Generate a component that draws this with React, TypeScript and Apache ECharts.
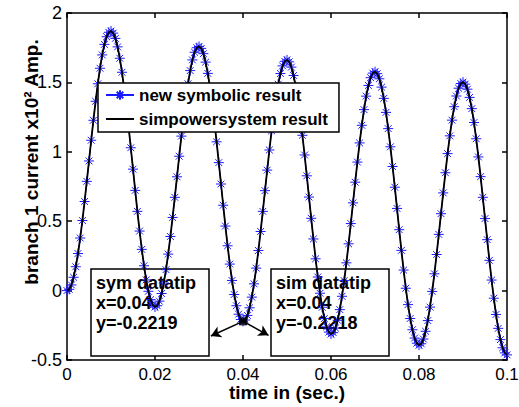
import React, { useEffect, useRef } from 'react';
import * as echarts from 'echarts';

// sample times (s)
const timeSec = [
  0, 0.0005, 0.001, 0.0015, 0.002, 0.0025, 0.003, 0.0035, 0.004, 0.0045,
  0.005, 0.0055, 0.006, 0.0065, 0.007, 0.0075, 0.008, 0.0085, 0.009, 0.0095,
  0.01, 0.0105, 0.011, 0.0115, 0.012, 0.0125, 0.013, 0.0135, 0.014, 0.0145,
  0.015, 0.0155, 0.016, 0.0165, 0.017, 0.0175, 0.018, 0.0185, 0.019, 0.0195,
  0.02, 0.0205, 0.021, 0.0215, 0.022, 0.0225, 0.023, 0.0235, 0.024, 0.0245,
  0.025, 0.0255, 0.026, 0.0265, 0.027, 0.0275, 0.028, 0.0285, 0.029, 0.0295,
  0.03, 0.0305, 0.031, 0.0315, 0.032, 0.0325, 0.033, 0.0335, 0.034, 0.0345,
  0.035, 0.0355, 0.036, 0.0365, 0.037, 0.0375, 0.038, 0.0385, 0.039, 0.0395,
  0.04, 0.0405, 0.041, 0.0415, 0.042, 0.0425, 0.043, 0.0435, 0.044, 0.0445,
  0.045, 0.0455, 0.046, 0.0465, 0.047, 0.0475, 0.048, 0.0485, 0.049, 0.0495,
  0.05, 0.0505, 0.051, 0.0515, 0.052, 0.0525, 0.053, 0.0535, 0.054, 0.0545,
  0.055, 0.0555, 0.056, 0.0565, 0.057, 0.0575, 0.058, 0.0585, 0.059, 0.0595,
  0.06, 0.0605, 0.061, 0.0615, 0.062, 0.0625, 0.063, 0.0635, 0.064, 0.0645,
  0.065, 0.0655, 0.066, 0.0665, 0.067, 0.0675, 0.068, 0.0685, 0.069, 0.0695,
  0.07, 0.0705, 0.071, 0.0715, 0.072, 0.0725, 0.073, 0.0735, 0.074, 0.0745,
  0.075, 0.0755, 0.076, 0.0765, 0.077, 0.0775, 0.078, 0.0785, 0.079, 0.0795,
  0.08, 0.0805, 0.081, 0.0815, 0.082, 0.0825, 0.083, 0.0835, 0.084, 0.0845,
  0.085, 0.0855, 0.086, 0.0865, 0.087, 0.0875, 0.088, 0.0885, 0.089, 0.0895,
  0.09, 0.0905, 0.091, 0.0915, 0.092, 0.0925, 0.093, 0.0935, 0.094, 0.0945,
  0.095, 0.0955, 0.096, 0.0965, 0.097, 0.0975, 0.098, 0.0985, 0.099, 0.0995,
  0.1,
];

// branch 1 current (x10^2 A), new symbolic result
const symbolicCurrent = [
  0, 0.009, 0.041, 0.096, 0.172, 0.267, 0.379, 0.505, 0.642, 0.787,
  0.934, 1.083, 1.227, 1.364, 1.49, 1.602, 1.698, 1.774, 1.829, 1.861,
  1.87, 1.855, 1.817, 1.756, 1.674, 1.573, 1.455, 1.322, 1.18, 1.029,
  0.875, 0.722, 0.571, 0.429, 0.297, 0.179, 0.077, -0.005, -0.065, -0.103,
  -0.118, -0.109, -0.076, -0.021, 0.055, 0.151, 0.263, 0.39, 0.527, 0.672,
  0.82, 0.968, 1.113, 1.251, 1.377, 1.49, 1.585, 1.662, 1.717, 1.75,
  1.759, 1.745, 1.707, 1.646, 1.565, 1.464, 1.346, 1.214, 1.072, 0.922,
  0.768, 0.615, 0.465, 0.323, 0.191, 0.073, -0.028, -0.109, -0.17, -0.208,
  -0.222, -0.212, -0.179, -0.124, -0.047, 0.049, 0.162, 0.289, 0.426, 0.571,
  0.72, 0.868, 1.013, 1.151, 1.278, 1.391, 1.487, 1.564, 1.619, 1.652,
  1.662, 1.648, 1.61, 1.55, 1.469, 1.368, 1.251, 1.119, 0.977, 0.827,
  0.674, 0.521, 0.372, 0.229, 0.098, -0.019, -0.12, -0.201, -0.261, -0.299,
  -0.313, -0.303, -0.27, -0.214, -0.137, -0.041, 0.072, 0.2, 0.337, 0.483,
  0.632, 0.781, 0.926, 1.064, 1.191, 1.304, 1.401, 1.478, 1.534, 1.567,
  1.577, 1.563, 1.526, 1.466, 1.385, 1.284, 1.167, 1.036, 0.894, 0.745,
  0.592, 0.439, 0.29, 0.148, 0.017, -0.101, -0.201, -0.282, -0.342, -0.379,
  -0.393, -0.383, -0.349, -0.293, -0.216, -0.119, -0.006, 0.121, 0.26, 0.405,
  0.554, 0.704, 0.849, 0.987, 1.115, 1.228, 1.325, 1.402, 1.458, 1.492,
  1.502, 1.488, 1.451, 1.392, 1.311, 1.211, 1.094, 0.963, 0.821, 0.672,
  0.519, 0.367, 0.218, 0.076, -0.055, -0.172, -0.272, -0.353, -0.412, -0.449,
  -0.463,
];

// simpowersystem result (coincides with the symbolic one)
const simpowerCurrent = symbolicCurrent.slice();

const seriesNames = ['new symbolic result', 'simpowersystem result'];
const xAxisTitle = 'time in (sec.)';
const yAxisTitle = 'branch 1 current x10² Amp.';

// datatip
const tipX = [0.04];
const tipY = [-0.2219];
const symTipLines = ['sym datatip', 'x=0.04', 'y=-0.2219'];
const simTipLines = ['sim datatip', 'x=0.04', 'y=-0.2218'];
const arrowEnds = [
  [0.0327, -0.327],
  [0.0458, -0.322],
];

const FONT = '"Liberation Sans", Arial, Helvetica, sans-serif';
const BLUE = '#1a1aff';
const ASTERISK = 'path://M5,0L5,10M0,5L10,5M1.6,1.6L8.4,8.4M1.6,8.4L8.4,1.6';
const LINE_ICON = 'path://M0,0L28,0L28,2L0,2Z';

export default function App() {
  const ref = useRef<HTMLDivElement>(null);

  useEffect(() => {
    if (!ref.current) return;
    const chart = echarts.init(ref.current, undefined, { renderer: 'svg' });

    const symData = timeSec.map((t, i) => [t, symbolicCurrent[i]]);
    const simData = timeSec.map((t, i) => [t, simpowerCurrent[i]]);
    const tipData = tipX.map((x, i) => [x, tipY[i]]);

    const axisLine = { show: true, onZero: false, lineStyle: { color: '#000', width: 1.5 } };
    const axisTick = { show: true, inside: true, length: 5, lineStyle: { color: '#000', width: 1.5 } };

    const option: any = {
      animation: false,
      backgroundColor: '#fff',
      grid: { left: 67, right: 12, top: 13, bottom: 47, containLabel: false, outerBoundsMode: 'none' },
      legend: {
        data: [
          { name: seriesNames[0] },
          { name: seriesNames[1], icon: LINE_ICON },
        ],
        orient: 'vertical',
        left: 98,
        top: 83,
        backgroundColor: '#fff',
        borderColor: '#000',
        borderWidth: 1.5,
        borderRadius: 0,
        padding: [2, 11, 3, 7],
        itemGap: 4,
        itemWidth: 28,
        itemHeight: 12,
        selectedMode: false,
        textStyle: { fontFamily: FONT, fontSize: 17, fontWeight: 'bold', color: '#000', lineHeight: 20 },
      },
      xAxis: [
        {
          type: 'value',
          min: 0,
          max: 0.1,
          interval: 0.02,
          position: 'bottom',
          axisLine,
          axisTick,
          splitLine: { show: false },
          axisLabel: { color: '#000', fontFamily: FONT, fontSize: 17, margin: 6 },
          name: xAxisTitle,
          nameLocation: 'middle',
          nameGap: 23,
          nameMoveOverlap: false,
          nameTextStyle: { fontFamily: FONT, fontSize: 19, fontWeight: 'bold', color: '#000' },
        },
        {
          type: 'value',
          min: 0,
          max: 0.1,
          interval: 0.02,
          position: 'top',
          axisLine,
          axisTick,
          splitLine: { show: false },
          axisLabel: { show: false },
        },
      ],
      yAxis: [
        {
          type: 'value',
          min: -0.5,
          max: 2,
          interval: 0.5,
          position: 'left',
          axisLine,
          axisTick,
          splitLine: { show: false },
          axisLabel: { color: '#000', fontFamily: FONT, fontSize: 18, margin: 5 },
        },
        {
          type: 'value',
          min: -0.5,
          max: 2,
          interval: 0.5,
          position: 'right',
          axisLine,
          axisTick,
          splitLine: { show: false },
          axisLabel: { show: false },
        },
      ],
      series: [
        {
          name: seriesNames[0],
          type: 'line',
          data: symData,
          symbol: ASTERISK,
          symbolSize: 10,
          showSymbol: true,
          showAllSymbol: true,
          itemStyle: { color: BLUE, borderColor: BLUE, borderWidth: 1 },
          lineStyle: { color: BLUE, width: 1 },
          z: 2,
        },
        {
          name: seriesNames[1],
          type: 'line',
          data: simData,
          symbol: 'none',
          itemStyle: { color: '#000' },
          lineStyle: { color: '#000', width: 1.8 },
          z: 3,
          markLine: {
            silent: true,
            symbol: ['none', 'arrow'],
            symbolSize: [9, 10],
            label: { show: false },
            lineStyle: { color: '#000', width: 1.5, type: 'solid' },
            data: arrowEnds.map((end) => [
              { coord: [tipX[0], tipY[0]] },
              { coord: end },
            ]),
          },
        },
        {
          name: 'datatip',
          type: 'scatter',
          data: tipData,
          symbol: 'rect',
          symbolSize: 8,
          itemStyle: { color: '#000' },
          z: 4,
        },
      ],
      graphic: [
        {
          type: 'text',
          z: 5,
          x: 31,
          y: 162,
          rotation: Math.PI / 2,
          style: {
            text: yAxisTitle,
            font: `bold 19px ${FONT}`,
            fill: '#000',
            align: 'center',
            verticalAlign: 'middle',
          },
        },
        {
          type: 'rect',
          z: 1,
          shape: { x: 91, y: 269, width: 118, height: 87 },
          style: { fill: '#fff', stroke: '#000', lineWidth: 1.5 },
        },
        {
          type: 'text',
          z: 1,
          x: 96,
          y: 273,
          style: {
            text: symTipLines.join('\n'),
            font: `bold 18px ${FONT}`,
            fill: '#000',
            lineHeight: 20,
            verticalAlign: 'top',
          },
        },
        {
          type: 'rect',
          z: 1,
          shape: { x: 271, y: 269, width: 118, height: 87 },
          style: { fill: '#fff', stroke: '#000', lineWidth: 1.5 },
        },
        {
          type: 'text',
          z: 1,
          x: 276,
          y: 273,
          style: {
            text: simTipLines.join('\n'),
            font: `bold 18px ${FONT}`,
            fill: '#000',
            lineHeight: 20,
            verticalAlign: 'top',
          },
        },
      ],
    };

    chart.setOption(option);
    return () => chart.dispose();
  }, []);

  return (
    <div
      ref={ref}
      style={{ position: 'fixed', left: 0, top: 0, width: 519, height: 407, background: '#fff' }}
    />
  );
}
